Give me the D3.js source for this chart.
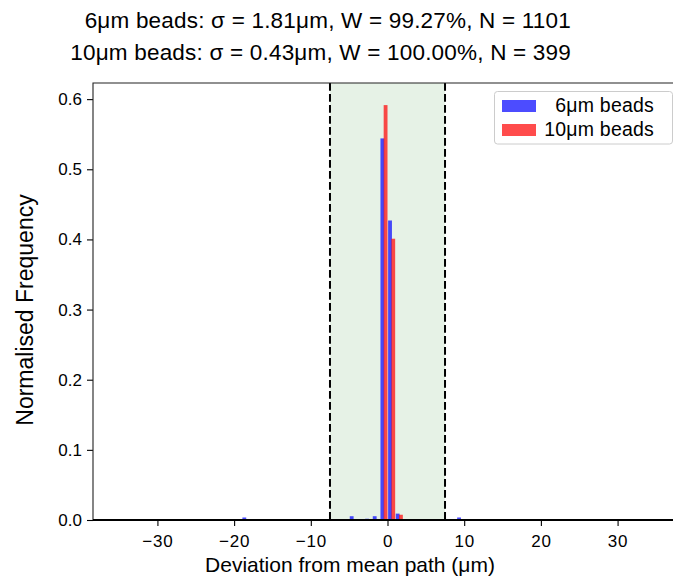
<!DOCTYPE html>
<html>
<head>
<meta charset="utf-8">
<script src="https://cdn.jsdelivr.net/npm/d3@7"></script>
<style>
body { margin: 0; background: #fff; }
text { font-family: "Liberation Sans", Arial, sans-serif; fill: #000; }
</style>
</head>
<body>
<script>
// histogram bins (left edge, µm) and normalised frequency per bin
const bins6 = [-19, -5, -3, -2, -1, 0, 1, 9];
const freq6 = [0.0036, 0.0054, 0.0018, 0.0054, 0.544, 0.427, 0.0091, 0.0036];
const bins10 = [-1, 0, 1];
const freq10 = [0.5915, 0.401, 0.0075];

const xTicks = [-30, -20, -10, 0, 10, 20, 30];
const yTicks = [0, 0.1, 0.2, 0.3, 0.4, 0.5, 0.6];
const windowEdges = [-7.5, 7.5];
const seriesNames = ["6μm beads", "10μm beads"];
const seriesColors = ["rgba(0,0,255,0.7)", "rgba(255,0,0,0.7)"];
const titleLines = [
    "6μm beads: σ = 1.81μm, W = 99.27%, N = 1101",
    "10μm beads: σ = 0.43μm, W = 100.00%, N = 399"
];

var margin = {top: 83, left: 93};
var width = 589, height = 437;

const svg = d3.select("body")
    .append("svg")
    .attr("width", 673)
    .attr("height", 581);

const g = svg.append("g")
    .attr("transform", "translate(" + margin.left + "," + margin.top + ")");

const x = d3.scaleLinear()
    .domain([-38.4, 38.4])
    .range([0, width]);

const y = d3.scaleLinear()
    .domain([0, 0.623])
    .range([height, 0]);

// acceptance window
g.append("rect")
    .attr("x", x(windowEdges[0]))
    .attr("y", 0)
    .attr("width", x(windowEdges[1]) - x(windowEdges[0]))
    .attr("height", height)
    .attr("fill", "#e6f2e6");

// bars: two datasets side by side inside each 1µm bin
const series = [
    {bins: bins6, freq: freq6, off: 0.08},
    {bins: bins10, freq: freq10, off: 0.5}
];
series.forEach((s, k) => {
    g.selectAll(".bar" + k)
        .data(s.bins.map((b, i) => ({b: b, f: s.freq[i]})))
        .enter()
        .append("rect")
        .attr("class", "bar" + k)
        .attr("x", d => x(d.b + s.off))
        .attr("y", d => y(d.f))
        .attr("width", d => x(d.b + s.off + 0.5) - x(d.b + s.off))
        .attr("height", d => height - y(d.f))
        .attr("fill", seriesColors[k]);
});

// dashed window edges
g.selectAll(".edge")
    .data(windowEdges)
    .enter()
    .append("line")
    .attr("x1", d => x(d))
    .attr("x2", d => x(d))
    .attr("y1", 0)
    .attr("y2", height)
    .attr("stroke", "#000")
    .attr("stroke-width", 2)
    .attr("stroke-dasharray", "7.7,3.3");

// axes
const yAxis = g.append("g")
    .call(d3.axisLeft(y).tickValues(yTicks).tickFormat(d3.format(".1f")).tickSize(6).tickPadding(5));
yAxis.select(".domain").remove();
yAxis.selectAll("text").attr("font-size", 17).attr("font-family", "Liberation Sans, Arial, sans-serif");

const xAxis = g.append("g")
    .attr("transform", "translate(0," + height + ")")
    .call(d3.axisBottom(x).tickValues(xTicks).tickFormat(d3.format("d")).tickSize(6).tickPadding(9));
xAxis.select(".domain").remove();
xAxis.selectAll("text").attr("font-size", 17).attr("letter-spacing", 0.8).attr("font-family", "Liberation Sans, Arial, sans-serif");
svg.selectAll(".tick line").attr("stroke", "#000").attr("stroke-width", 1.1);

// spines
g.append("path")
    .attr("d", "M0," + height + "V0H" + width)
    .attr("fill", "none")
    .attr("stroke", "#222")
    .attr("stroke-width", 1.1);
g.append("line")
    .attr("x1", 0).attr("x2", width)
    .attr("y1", y(0)).attr("y2", y(0))
    .attr("stroke", "#000")
    .attr("stroke-width", 2);

// labels
svg.append("text")
    .attr("x", 350)
    .attr("y", 572)
    .attr("text-anchor", "middle")
    .attr("font-size", 21)
    .text("Deviation from mean path (μm)");

svg.append("text")
    .attr("transform", "translate(33,310) rotate(-90)")
    .attr("text-anchor", "middle")
    .attr("font-size", 23)
    .text("Normalised Frequency");

svg.selectAll(".title")
    .data(titleLines)
    .enter()
    .append("text")
    .attr("class", "title")
    .attr("x", 571)
    .attr("y", (d, i) => 28 + i * 32)
    .attr("text-anchor", "end")
    .attr("font-size", 22.5)
    .attr("letter-spacing", 0.2)
    .text(d => d);

// legend
const leg = svg.append("g");
leg.append("rect")
    .attr("x", 494.5)
    .attr("y", 91.5)
    .attr("width", 178)
    .attr("height", 52.5)
    .attr("rx", 3)
    .attr("fill", "rgba(255,255,255,0.8)")
    .attr("stroke", "#cccccc");
seriesNames.forEach((name, i) => {
    leg.append("rect")
        .attr("x", 502)
        .attr("y", 100 + i * 24)
        .attr("width", 34)
        .attr("height", 12)
        .attr("fill", seriesColors[i]);
    leg.append("text")
        .attr("x", 654)
        .attr("y", 112 + i * 24)
        .attr("text-anchor", "end")
        .attr("font-size", 19.5)
        .attr("letter-spacing", 0.2)
        .text(name);
});
</script>
</body>
</html>
